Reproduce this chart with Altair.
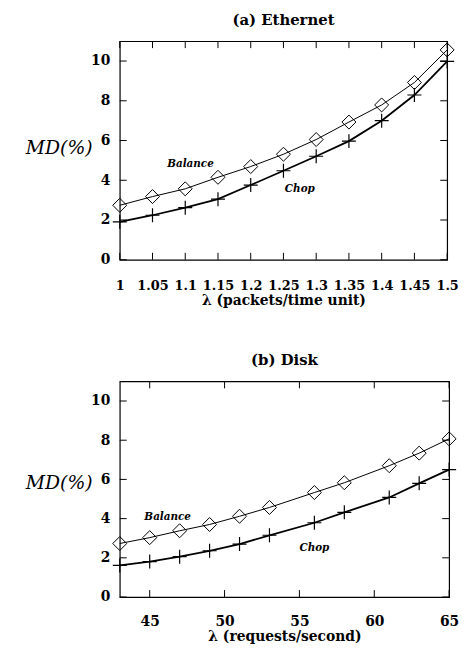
import altair as alt
import pandas as pd

# ---------------- data ----------------
eth_lambda = [1.0, 1.05, 1.1, 1.15, 1.2, 1.25, 1.3, 1.35, 1.4, 1.45, 1.5]
eth_balance = [2.74, 3.18, 3.57, 4.15, 4.69, 5.31, 6.05, 6.93, 7.79, 8.92, 10.56]
eth_chop = [1.91, 2.24, 2.62, 3.05, 3.76, 4.48, 5.21, 5.97, 7.00, 8.29, 9.98]

disk_lambda = [43, 45, 47, 49, 51, 53, 56, 58, 61, 63, 65]
disk_balance = [2.73, 3.03, 3.38, 3.70, 4.12, 4.57, 5.33, 5.83, 6.70, 7.34, 8.07]
disk_chop = [1.61, 1.81, 2.06, 2.36, 2.70, 3.15, 3.79, 4.32, 5.08, 5.80, 6.50]

eth_xticks = [1.0, 1.05, 1.1, 1.15, 1.2, 1.25, 1.3, 1.35, 1.4, 1.45, 1.5]
disk_xticks = [45, 50, 55, 60, 65]
y_ticks = [0, 2, 4, 6, 8, 10]

label_text = ["Balance", "Chop"]
eth_label_x = [1.108, 1.275]
eth_label_y = [4.83, 3.58]
disk_label_x = [46.2, 56.0]
disk_label_y = [4.07, 2.5]

SERIF = "DejaVu Serif"
TICK = 7


def panel(lam, bal, chop, xticks, xdomain, xtitle, title, w, h, lx, ly,
          title_y, xlabel_size, xlabel_pad):
    df = pd.DataFrame({"lam": lam, "bal": bal, "chop": chop})
    xscale = alt.Scale(domain=xdomain, nice=False, zero=False)
    yscale = alt.Scale(domain=[0, 11], nice=False, zero=False)

    xaxis = alt.Axis(
        values=xticks, format="~g", title=xtitle, labelOverlap=False,
        labelPadding=xlabel_pad, titlePadding=1, labelFlush=False,
        labelFontSize=xlabel_size,
    )
    yaxis = alt.Axis(
        values=y_ticks, title="MD(%)", titleAngle=0, titleX=-28,
        titleY=title_y, titleAlign="right", titleBaseline="middle",
        titleFont=SERIF, titleFontStyle="italic", titleFontWeight="normal",
        titleFontSize=19, labelPadding=10,
    )

    def X(f="lam"):
        return alt.X(f"{f}:Q", scale=xscale, axis=xaxis)

    def Y(f):
        return alt.Y(f"{f}:Q", scale=yscale, axis=yaxis)

    base = alt.Chart(df)
    bal_line = base.mark_line(color="black", strokeWidth=1).encode(x=X(), y=Y("bal"))
    bal_pts = base.mark_point(
        shape="diamond", filled=False, size=200, color="black", strokeWidth=1, opacity=1
    ).encode(x=X(), y=Y("bal"))
    chop_line = base.mark_line(color="black", strokeWidth=1.8).encode(x=X(), y=Y("chop"))
    chop_pts = base.mark_point(
        shape="M-1,0H1M0,-1V1", filled=False, size=200, color="black",
        strokeWidth=1.2, opacity=1,
    ).encode(x=X(), y=Y("chop"))

    xt = alt.Chart(pd.DataFrame({"lam": xticks}))
    yt = alt.Chart(pd.DataFrame({"bal": y_ticks}))
    tick_b = xt.mark_rule(color="black", strokeWidth=1).encode(
        x=X(), y=alt.value(h), y2=alt.value(h - TICK))
    tick_t = xt.mark_rule(color="black", strokeWidth=1).encode(
        x=X(), y=alt.value(0), y2=alt.value(TICK))
    tick_l = yt.mark_rule(color="black", strokeWidth=1).encode(
        y=Y("bal"), x=alt.value(0), x2=alt.value(TICK))
    tick_r = yt.mark_rule(color="black", strokeWidth=1).encode(
        y=Y("bal"), x=alt.value(w), x2=alt.value(w - TICK))

    lab = alt.Chart(pd.DataFrame({"lam": lx, "bal": ly, "t": label_text})).mark_text(
        font=SERIF, fontStyle="italic", fontWeight="bold", fontSize=10.5, color="black"
    ).encode(x=X(), y=Y("bal"), text="t:N")

    return alt.layer(
        bal_line, chop_line, bal_pts, chop_pts, tick_b, tick_t, tick_l, tick_r, lab
    ).properties(
        width=w, height=h,
        title=alt.TitleParams(title, font=SERIF, fontSize=15, fontWeight="bold",
                              color="black", offset=13),
    )


top = panel(eth_lambda, eth_balance, eth_chop, eth_xticks, [1.0, 1.5],
            "λ (packets/time unit)", "(a) Ethernet", 331, 221,
            eth_label_x, eth_label_y, 108, 13, 20)
bottom = panel(disk_lambda, disk_balance, disk_chop, disk_xticks, [43, 65],
               "λ (requests/second)", "(b) Disk", 333, 218,
               disk_label_x, disk_label_y, 102, 14, 18)

chart = alt.vconcat(top, bottom, spacing=44).properties(
    background="white",
    padding={"left": 16, "top": 0, "right": 0, "bottom": 0},
).configure_view(
    stroke="black", strokeWidth=1.2
).configure_axis(
    domain=False, grid=False, ticks=False,
    labelFont=SERIF, labelFontWeight="bold", labelFontSize=14, labelColor="black",
    titleFont=SERIF, titleFontWeight="bold", titleFontSize=14, titleColor="black",
)

chart.save("out.html", embed_options={"renderer": "svg", "actions": False})
